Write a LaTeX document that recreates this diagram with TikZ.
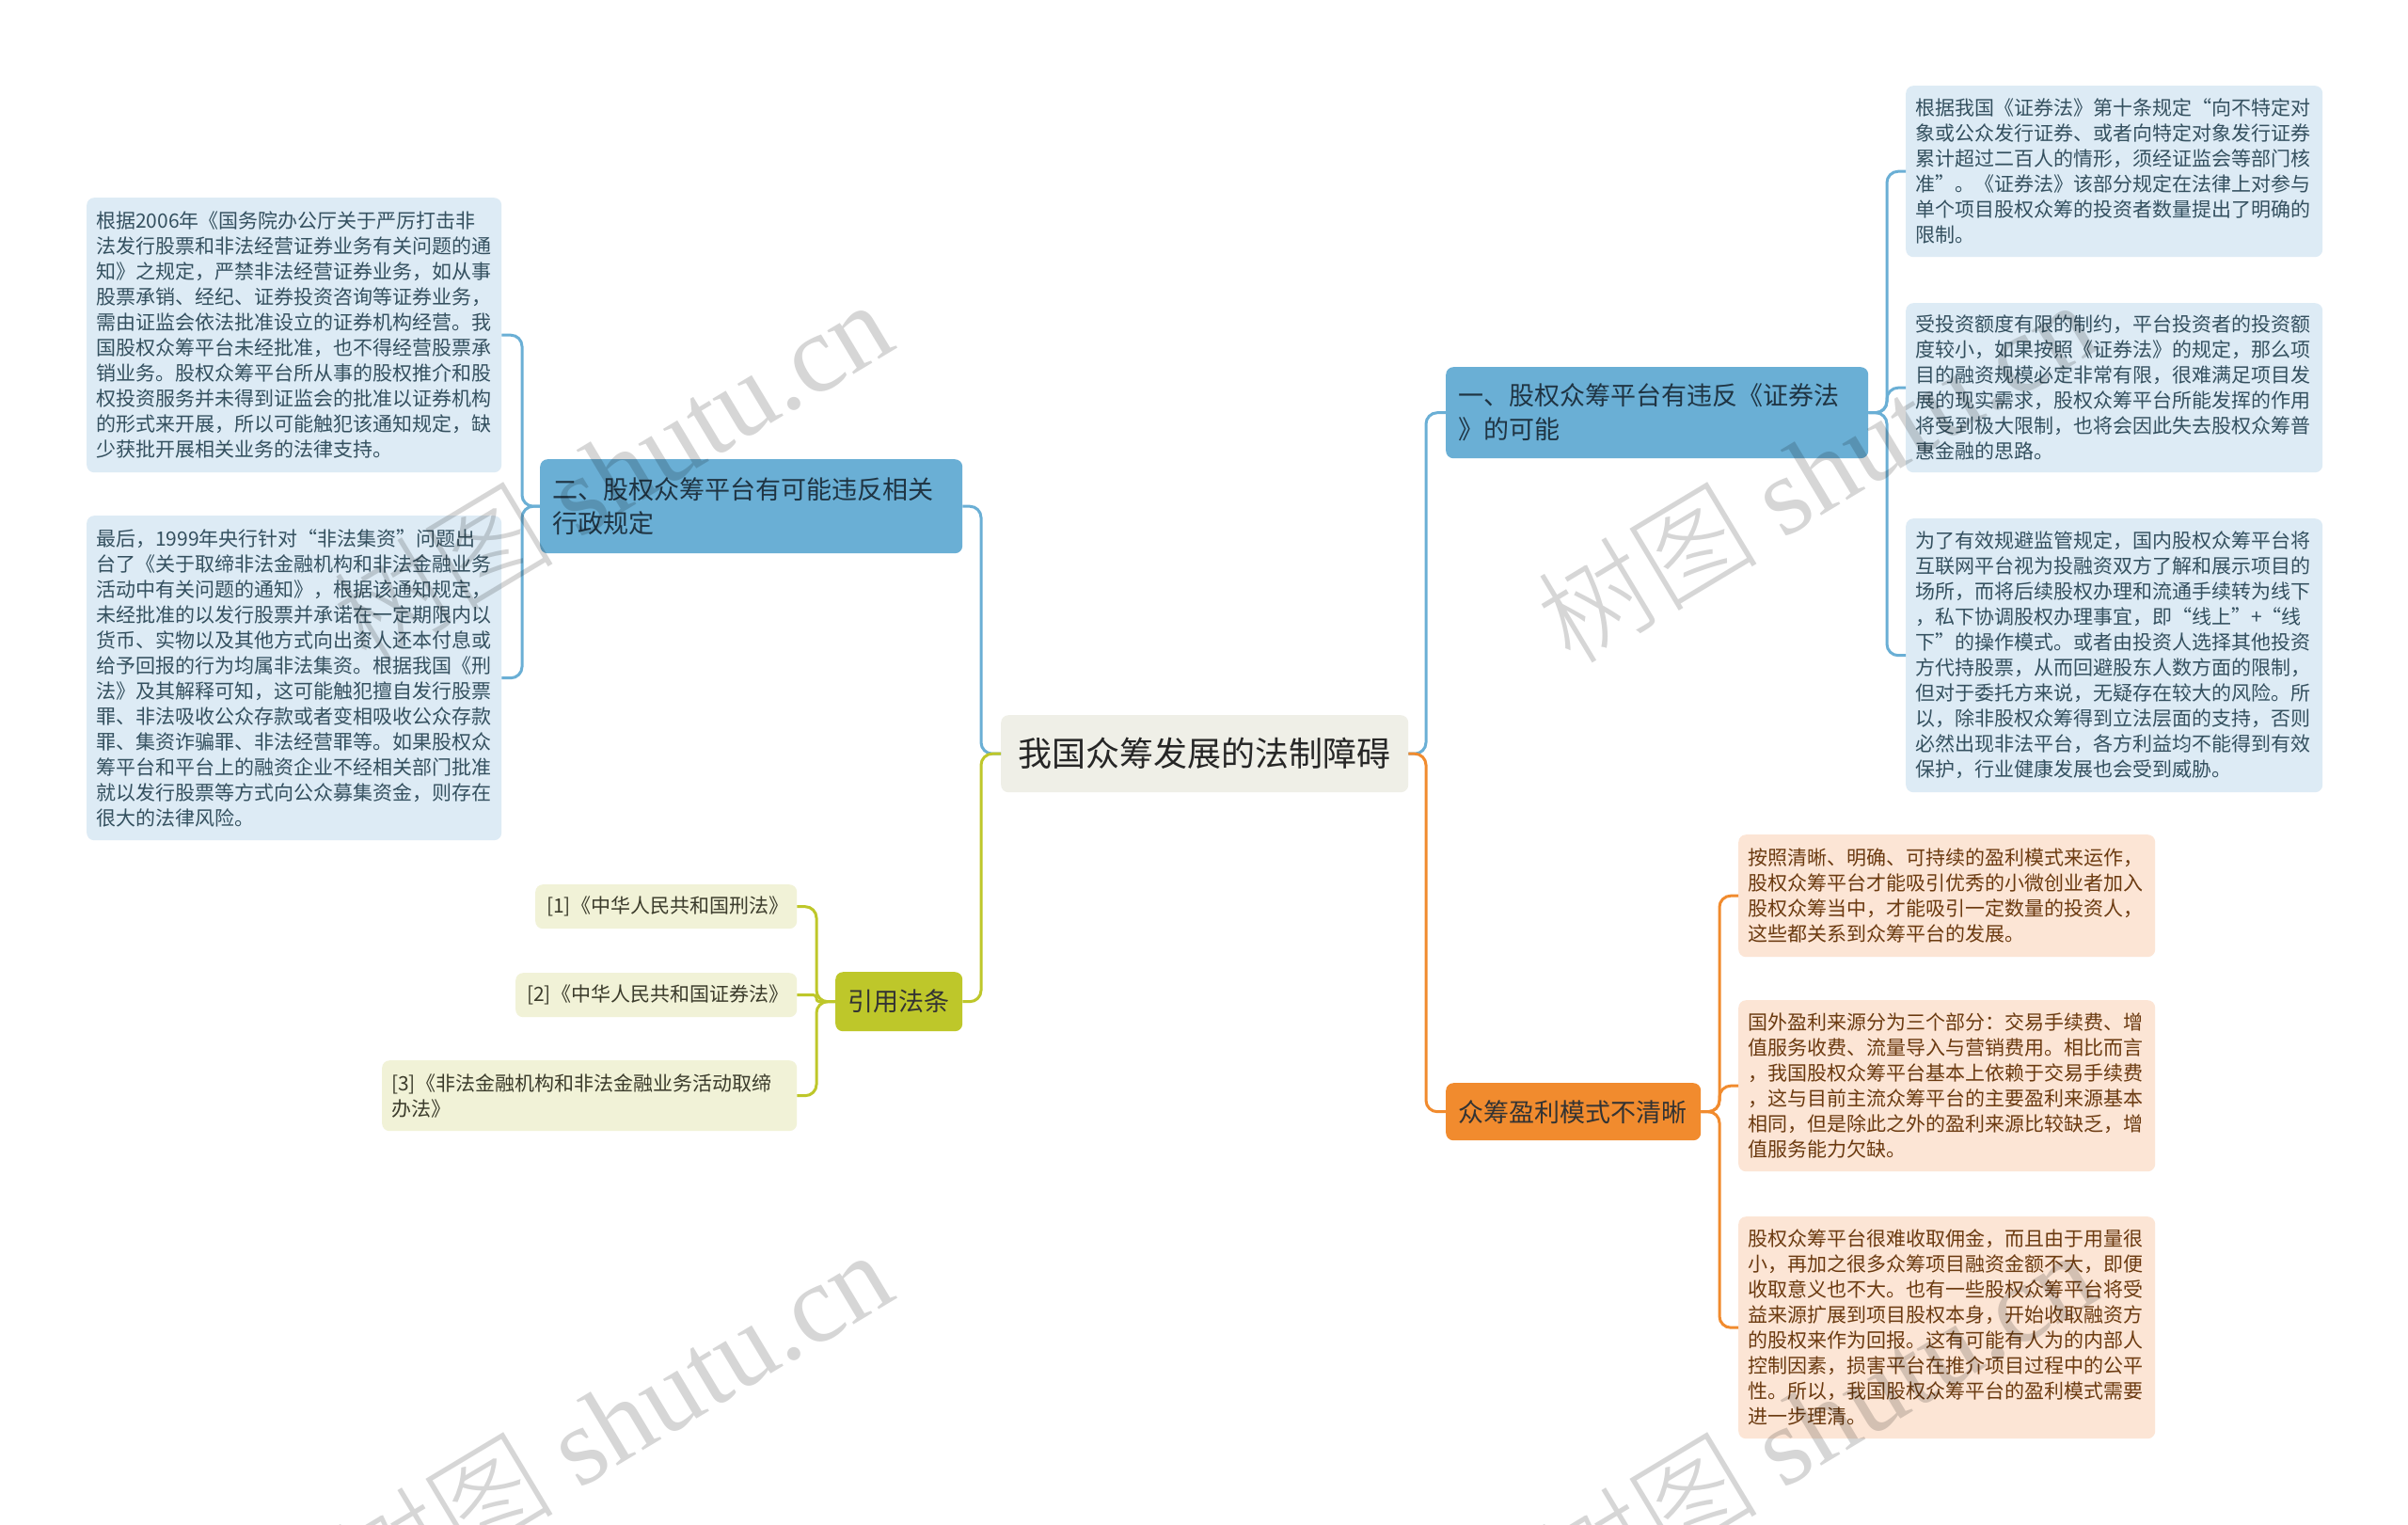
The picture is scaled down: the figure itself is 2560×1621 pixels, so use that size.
\documentclass[tikz,border=0pt]{standalone}
\usepackage{fontspec}
\setmainfont{Noto Sans CJK SC}
\newfontfamily\wmlatin{Liberation Serif}
\newfontfamily\wmcjk{Noto Sans CJK SC Light}
\usetikzlibrary{calc}
\definecolor{mblue}{HTML}{6AAFD5}
\definecolor{lblue}{HTML}{DDEBF5}
\definecolor{tblue}{HTML}{34505F}
\definecolor{tmblue}{HTML}{1F3443}
\definecolor{morange}{HTML}{F18B2E}
\definecolor{lorange}{HTML}{FCE5D5}
\definecolor{torange}{HTML}{6B3A10}
\definecolor{mgreen}{HTML}{BEC72A}
\definecolor{lgreen}{HTML}{F1F2D7}
\definecolor{tgreen}{HTML}{3B3B2B}
\definecolor{cfill}{HTML}{EFEFE7}
\tikzset{
  basebox/.style={rounded corners=8, inner ysep=0pt, anchor=north west, align=left},
  leaftext/.style={font=\fontsize{21}{27}\selectfont},
  leafblue/.style={basebox, leaftext, fill=lblue, text=tblue, inner xsep=10},
  leaforange/.style={basebox, leaftext, fill=lorange, text=torange, inner xsep=10},
  leafgreen/.style={basebox, leaftext, fill=lgreen, text=tgreen, inner xsep=12},
  mainblue/.style={basebox, fill=mblue, text=tmblue, inner xsep=13, font=\fontsize{27}{36}\selectfont},
  mainorange/.style={basebox, fill=morange, text=black!80, inner xsep=13, font=\fontsize{27}{36}\selectfont},
  maingreen/.style={basebox, fill=mgreen, text=black!80, inner xsep=13, font=\fontsize{27}{36}\selectfont},
  centerbox/.style={basebox, fill=cfill, text=black!85, inner xsep=18, font=\fontsize{36}{44}\selectfont},
  conn/.style={line width=3pt, rounded corners=12},
  cblue/.style={conn, draw=mblue},
  cgreen/.style={conn, draw=mgreen},
  corange/.style={conn, draw=morange},
  wm/.style={text=black, opacity=0.16, font=\fontsize{118}{118}\selectfont, rotate=31, inner sep=0pt}
}
\begin{document}
\begin{tikzpicture}[x=1pt,y=-1pt]
\useasboundingbox[fill=white] (0,0) rectangle (2560,1621);

% center
\node[centerbox, minimum width=433, minimum height=82, text width=397] (ctr) at (1064,760) {我国众筹发展的法制障碍};

% main branches
\node[mainblue, minimum width=449, minimum height=97, text width=423] (b1) at (1537,390) {一、股权众筹平台有违反《证券法\\》的可能};
\node[mainorange, minimum width=271, minimum height=61, text width=245] (bo) at (1537,1151) {众筹盈利模式不清晰};
\node[mainblue, minimum width=449, minimum height=100, text width=423] (b2) at (574,488) {二、股权众筹平台有可能违反相关\\行政规定};
\node[maingreen, minimum width=135, minimum height=63, text width=109] (cite) at (888,1033) {引用法条};

% left leaves
\node[leafblue, minimum width=441, minimum height=292, text width=421] (L1) at (92,210) {根据2006年《国务院办公厅关于严厉打击非\\法发行股票和非法经营证券业务有关问题的通\\知》之规定，严禁非法经营证券业务，如从事\\股票承销、经纪、证券投资咨询等证券业务，\\需由证监会依法批准设立的证券机构经营。我\\国股权众筹平台未经批准，也不得经营股票承\\销业务。股权众筹平台所从事的股权推介和股\\权投资服务并未得到证监会的批准以证券机构\\的形式来开展，所以可能触犯该通知规定，缺\\少获批开展相关业务的法律支持。};
\node[leafblue, minimum width=441, minimum height=345, text width=421] (L2) at (92,548) {最后，1999年央行针对“非法集资”问题出\\台了《关于取缔非法金融机构和非法金融业务\\活动中有关问题的通知》，根据该通知规定，\\未经批准的以发行股票并承诺在一定期限内以\\货币、实物以及其他方式向出资人还本付息或\\给予回报的行为均属非法集资。根据我国《刑\\法》及其解释可知，这可能触犯擅自发行股票\\罪、非法吸收公众存款或者变相吸收公众存款\\罪、集资诈骗罪、非法经营罪等。如果股权众\\筹平台和平台上的融资企业不经相关部门批准\\就以发行股票等方式向公众募集资金，则存在\\很大的法律风险。};

% cited laws
\node[leafgreen, minimum width=278, minimum height=47, text width=254] (C1) at (569,940) {[1]《中华人民共和国刑法》};
\node[leafgreen, minimum width=299, minimum height=47, text width=275] (C2) at (548,1034) {[2]《中华人民共和国证券法》};
\node[leafgreen, minimum width=441, minimum height=75, text width=421, inner xsep=10] (C3) at (406,1127) {[3]《非法金融机构和非法金融业务活动取缔\\办法》};

% right blue leaves
\node[leafblue, minimum width=443, minimum height=182, text width=423] (R1) at (2026,91) {根据我国《证券法》第十条规定“向不特定对\\象或公众发行证券、或者向特定对象发行证券\\累计超过二百人的情形，须经证监会等部门核\\准”。《证券法》该部分规定在法律上对参与\\单个项目股权众筹的投资者数量提出了明确的\\限制。};
\node[leafblue, minimum width=443, minimum height=180, text width=423] (R2) at (2026,322) {受投资额度有限的制约，平台投资者的投资额\\度较小，如果按照《证券法》的规定，那么项\\目的融资规模必定非常有限，很难满足项目发\\展的现实需求，股权众筹平台所能发挥的作用\\将受到极大限制，也将会因此失去股权众筹普\\惠金融的思路。};
\node[leafblue, minimum width=443, minimum height=291, text width=423] (R3) at (2026,551) {为了有效规避监管规定，国内股权众筹平台将\\互联网平台视为投融资双方了解和展示项目的\\场所，而将后续股权办理和流通手续转为线下\\，私下协调股权办理事宜，即“线上”+“线\\下”的操作模式。或者由投资人选择其他投资\\方代持股票，从而回避股东人数方面的限制，\\但对于委托方来说，无疑存在较大的风险。所\\以，除非股权众筹得到立法层面的支持，否则\\必然出现非法平台，各方利益均不能得到有效\\保护，行业健康发展也会受到威胁。};

% right orange leaves
\node[leaforange, minimum width=443, minimum height=130, text width=423] (O1) at (1848,887) {按照清晰、明确、可持续的盈利模式来运作，\\股权众筹平台才能吸引优秀的小微创业者加入\\股权众筹当中，才能吸引一定数量的投资人，\\这些都关系到众筹平台的发展。};
\node[leaforange, minimum width=443, minimum height=182, text width=423] (O2) at (1848,1063) {国外盈利来源分为三个部分：交易手续费、增\\值服务收费、流量导入与营销费用。相比而言\\，我国股权众筹平台基本上依赖于交易手续费\\，这与目前主流众筹平台的主要盈利来源基本\\相同，但是除此之外的盈利来源比较缺乏，增\\值服务能力欠缺。};
\node[leaforange, minimum width=443, minimum height=236, text width=423] (O3) at (1848,1293) {股权众筹平台很难收取佣金，而且由于用量很\\小，再加之很多众筹项目融资金额不大，即便\\收取意义也不大。也有一些股权众筹平台将受\\益来源扩展到项目股权本身，开始收取融资方\\的股权来作为回报。这有可能有人为的内部人\\控制因素，损害平台在推介项目过程中的公平\\性。所以，我国股权众筹平台的盈利模式需要\\进一步理清。};

% junction coordinates
\coordinate (jl) at (1043,0);
\coordinate (jr) at (1516,0);
\coordinate (kl) at (555,0);
\coordinate (kr) at (2006,0);
\coordinate (ko) at (1828,0);
\coordinate (kg) at (868,0);

% connectors
\draw[cblue] (ctr.west) -- (ctr.west -| jl) |- (b2.east);
\draw[cgreen] (ctr.west) -- (ctr.west -| jl) |- (cite.east);
\draw[cblue] (ctr.east) -- (ctr.east -| jr) |- (b1.west);
\draw[corange] (ctr.east) -- (ctr.east -| jr) |- (bo.west);

\foreach \n in {L1,L2} \draw[cblue] (b2.west) -- (b2.west -| kl) |- (\n.east);
\foreach \n in {R1,R2,R3} \draw[cblue] (b1.east) -- (b1.east -| kr) |- (\n.west);
\foreach \n in {O1,O2,O3} \draw[corange] (bo.east) -- (bo.east -| ko) |- (\n.west);
\draw[cgreen] (cite.west) -- (cite.west -| kg) |- (C1.east);
\draw[cgreen, rounded corners=3] (cite.west) -- (cite.west -| kg) |- (C2.east);
\draw[cgreen] (cite.west) -- (cite.west -| kg) |- (C3.east);

% watermarks
\node[wm] (wm1) at (650,500) {{\wmcjk 树图} {\wmlatin shutu.cn}};
\node[wm] (wm2) at (1930,500) {{\wmcjk 树图} {\wmlatin shutu.cn}};
\node[wm] (wm3) at (650,1510) {{\wmcjk 树图} {\wmlatin shutu.cn}};
\node[wm] (wm4) at (1930,1510) {{\wmcjk 树图} {\wmlatin shutu.cn}};
\end{tikzpicture}
\end{document}
